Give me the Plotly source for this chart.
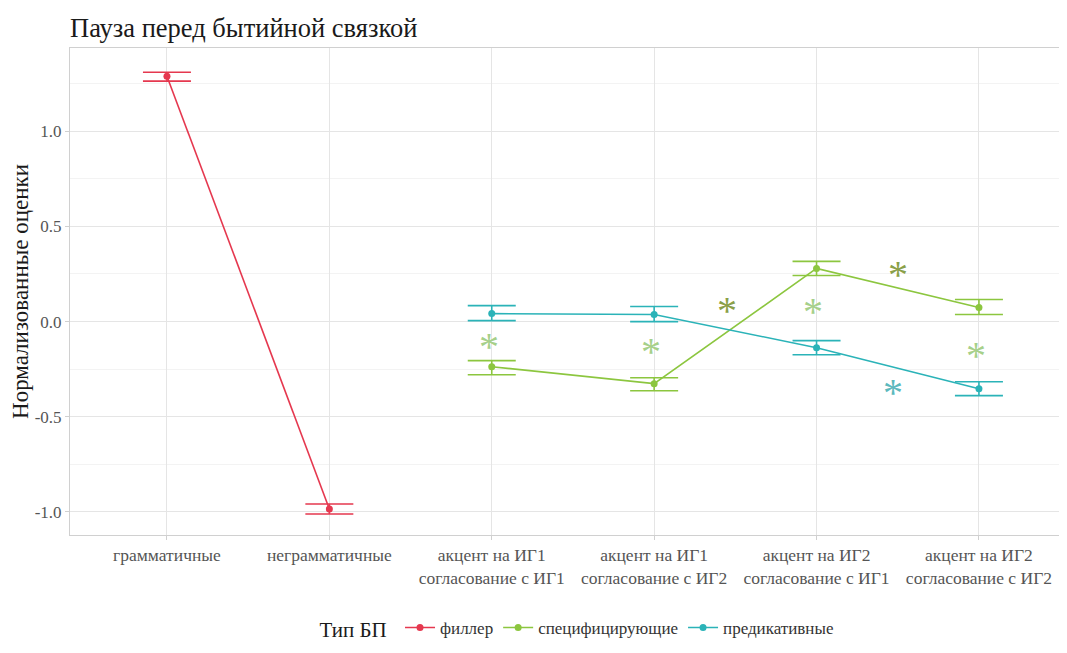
import plotly.graph_objects as go

categories = ["грамматичные", "неграмматичные",
              "акцент на ИГ1<br>согласование с ИГ1", "акцент на ИГ1<br>согласование с ИГ2",
              "акцент на ИГ2<br>согласование с ИГ1", "акцент на ИГ2<br>согласование с ИГ2"]
cat_pos = [0, 1, 2, 3, 4, 5]

filler_x = [0, 1]
filler_mean = [1.289, -0.984]
filler_lo = [1.263, -1.011]
filler_hi = [1.310, -0.958]

spec_x = [2, 3, 4, 5]
spec_mean = [-0.237, -0.326, 0.279, 0.074]
spec_lo = [-0.279, -0.363, 0.242, 0.037]
spec_hi = [-0.205, -0.295, 0.316, 0.116]

pred_x = [2, 3, 4, 5]
pred_mean = [0.042, 0.037, -0.137, -0.353]
pred_lo = [0.005, 0.000, -0.174, -0.389]
pred_hi = [0.084, 0.079, -0.100, -0.316]

# significance asterisks
star_light_x = [1.98, 2.98, 3.98, 4.98]
star_light_y = [-0.11, -0.137, 0.074, -0.158]
star_dark_x = [3.45, 4.5]
star_dark_y = [0.079, 0.268]
star_teal_x = [4.47]
star_teal_y = [-0.353]

RED = "#E5384F"
GREEN = "#8CC63F"
TEAL = "#2BB3B8"
FONT = "Liberation Serif"

fig = go.Figure()

def add_series(name, xs, m, lo, hi, color):
    fig.add_trace(go.Scatter(
        x=xs, y=m, name=name, mode="lines+markers",
        line=dict(color=color, width=1.6),
        marker=dict(color=color, size=7),
        error_y=dict(type="data", symmetric=False,
                     array=[h - v for h, v in zip(hi, m)],
                     arrayminus=[v - l for v, l in zip(m, lo)],
                     color=color, thickness=1.6, width=24),
    ))

add_series("филлер", filler_x, filler_mean, filler_lo, filler_hi, RED)
add_series("специфицирующие", spec_x, spec_mean, spec_lo, spec_hi, GREEN)
add_series("предикативные", pred_x, pred_mean, pred_lo, pred_hi, TEAL)

annotations = []
def add_stars(xs, ys, color):
    for x, y in zip(xs, ys):
        annotations.append(dict(
            x=x, y=y, xref="x", yref="y", text="*", showarrow=False,
            xanchor="center", yanchor="middle", yshift=-4,
            font=dict(family="Liberation Serif", size=40, color=color),
        ))

add_stars(star_light_x, star_light_y, "#A6D08A")
add_stars(star_dark_x, star_dark_y, "#8AA048")
add_stars(star_teal_x, star_teal_y, "#5CB9BD")

W, H = 1051, 637
fig.update_layout(
    width=W, height=H,
    margin=dict(l=62, r=0, t=40, b=110, autoexpand=False),
    paper_bgcolor="white", plot_bgcolor="white",
    font=dict(family=FONT, color="#4D4D4D", size=16),
    title=dict(text="Пауза перед бытийной связкой", x=62 / W, xanchor="left",
               y=1 - 20 / H, yanchor="middle",
               font=dict(family=FONT, size=26.5, color="#1A1A1A")),
    legend=dict(orientation="h", xref="container", x=570 / W, xanchor="center",
                yref="container", y=16 / H, yanchor="middle",
                title=dict(text="Тип БП ", side="left", font=dict(size=21, color="#1A1A1A")),
                font=dict(size=17, color="#333333"), itemwidth=30),
    showlegend=True,
    annotations=annotations,
)

fig.update_xaxes(
    range=[-0.597, 5.493], tickmode="array", tickvals=cat_pos, ticktext=categories,
    showgrid=True, gridcolor="#E5E5E5", gridwidth=1,
    showline=True, linecolor="#D0D0D0", linewidth=1, mirror=True,
    ticks="outside", ticklen=4, tickcolor="#D0D0D0",
    tickfont=dict(size=17.5, color="#555555"), zeroline=False, automargin=False,
)
fig.update_yaxes(
    range=[-1.121, 1.437], tickmode="array", tickvals=[-1.0, -0.5, 0.0, 0.5, 1.0],
    ticktext=["-1.0", "-0.5", "0.0", "0.5", "1.0"],
    showgrid=True, gridcolor="#E5E5E5", gridwidth=1,
    minor=dict(tickvals=[-0.75, -0.25, 0.25, 0.75, 1.25], showgrid=True, gridcolor="#F3F3F3", ticklen=0),
    showline=True, linecolor="#D0D0D0", linewidth=1, mirror=False,
    ticks="outside", ticklen=4, tickcolor="#D0D0D0",
    tickfont=dict(size=17, color="#555555"), zeroline=False, automargin=False,
    title=dict(text="Нормализованные оценки", font=dict(size=23, color="#1A1A1A"), standoff=10),
)

fig.write_html("out.html")
